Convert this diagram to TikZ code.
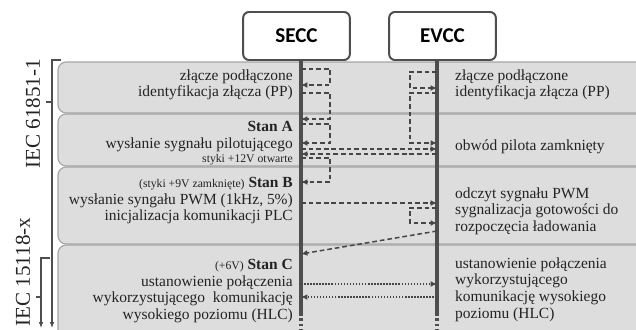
\documentclass[tikz,border=0pt]{standalone}
\usepackage{fontspec}
\setmainfont{Liberation Serif}
\newfontfamily\unitfont{Carlito}
\usetikzlibrary{arrows.meta}
\definecolor{bandgray}{RGB}{221,221,221}
\definecolor{bandline}{RGB}{165,165,165}
\definecolor{linegray}{RGB}{78,78,78}
\definecolor{msggray}{RGB}{70,70,70}
\definecolor{txtgray}{RGB}{35,35,35}
\newcommand{\smallnote}[1]{{\fontsize{10}{11}\selectfont #1}}
\tikzset{
  unit/.style={draw=linegray, line width=1.7pt, rounded corners=5pt, fill=white, minimum width=3.2cm, minimum height=1.44cm, font={\unitfont\bfseries\fontsize{18}{20}\selectfont}, text=black},
  band/.style={fill=bandgray, draw=bandline, line width=1pt, rounded corners=7pt},
  life/.style={draw=linegray, line width=2.6pt},
  msg/.style={-{Latex[length=5.5pt,width=5pt]}, line width=1.3pt, draw=msggray, dash pattern=on 4pt off 2.5pt},
  hlc/.style={msg, dash pattern=on 1.3pt off 1.3pt},
  lnote/.style={align=right, inner sep=0pt, text=txtgray, font={\fontsize{13.2}{14.1}\selectfont}},
  rnote/.style={lnote, align=left},
  brk/.style={draw=linegray, line width=1.2pt},
  iec/.style={rotate=90, inner sep=0pt, text=txtgray, font={\fontsize{18}{20}\selectfont}}
}
\begin{document}
\begin{tikzpicture}[x=0.03cm, y=-0.03cm]
  \useasboundingbox (0,0) rectangle (636,329);
  \clip (0,0) rectangle (636,329);

  \foreach \t/\b in {62/113, 114/166, 167/244, 245/345}
    \draw[band] (58,\t) rectangle (650,\b);

  \node[unit] (secc) at (296.5,36) {SECC};
  \node[unit] (evcc) at (442.5,36) {EVCC};

  \coordinate (sl) at (301,60);
  \coordinate (el) at (437,60);
  \coordinate (sx) at (330,0);
  \coordinate (ex) at (410,0);
  \foreach \n/\y in {a/69, b/85, c/93, d/119, e/124, f/143, g/149, h/154, i/158, j/182,
                     k/203, l/208, m/223, n/231, o/254, p/284, q/297, r/72, s/88, z/313}
    \coordinate (y\n) at (0,\y);

  \draw[life] (secc.south -| sl) -- (sl |- yz);
  \draw[life] (evcc.south -| el) -- (el |- yz);
  \draw[life, dash pattern=on 2.5pt off 2pt] (sl |- yz) -- ++(0,18);
  \draw[life, dash pattern=on 2.5pt off 2pt] (el |- yz) -- ++(0,18);

  \node[lnote, anchor=north east] (pps) at (293,69.5) {złącze podłączone\\identyfikacja złącza (PP)};
  \node[lnote, anchor=north east] (stana) at (293,121.5) {\textbf{Stan A}\\wysłanie sygnału pilotującego};
  \node[lnote, anchor=base east] (open12) at (293,162) {\smallnote{styki +12V otwarte}};
  \node[lnote, anchor=base east] (stanb) at (293,187) {\smallnote{(styki +9V zamknięte)} \textbf{Stan B}};
  \node[lnote, anchor=north east] (pwms) at (293,193.5) {wysłanie syngału PWM (1kHz, 5\%)\\inicjalizacja komunikacji PLC};
  \node[lnote, anchor=base east] (stanc) at (293,269) {\smallnote{(+6V)} \textbf{Stan C}};
  \node[lnote, anchor=north east] (hlcs) at (293,275.5) {ustanowienie połączenia\\wykorzystującego\ \ komunikację\\wysokiego poziomu (HLC)};

  \node[rnote, anchor=north west] (ppe) at (455,69.5) {złącze podłączone\\identyfikacja złącza (PP)};
  \node[rnote, anchor=base west] (pilot) at (455,150) {obwód pilota zamknięty};
  \node[rnote, anchor=north west] (pwme) at (455,187.5) {odczyt sygnału PWM\\sygnalizacja gotowości do\\rozpoczęcia ładowania};
  \node[rnote, anchor=north west] (hlce) at (455,257.5) {ustanowienie połączenia\\wykorzystującego\\komunikację wysokiego\\poziomu (HLC)};

  \draw[msg] (sl |- ya) -| (sx |- yb) -- (sl |- yb);
  \draw[msg] (sl |- yc) -| (sx |- yd) -- (sl |- yd);
  \draw[msg] (sl |- ye) -| (sx |- yf) -- (sl |- yf);
  \draw[msg] (sl |- yi) -| (sx |- yj) -- (sl |- yj);
  \draw[msg] (el |- yr) -| (ex |- ys) -- (el |- ys);
  \draw[msg] (el |- yc) -| (ex |- yf) -- (el |- yf);
  \draw[msg] (el |- yl) -| (ex |- ym) -- (el |- ym);
  \draw[msg] (sl |- yg) -- (el |- yg);
  \draw[msg] (el |- yh) -- (sl |- yh);
  \draw[msg] (sl |- yk) -- (el |- yk);
  \draw[msg] (el |- yn) -- (sl |- yo);
  \draw[hlc] (sl |- yp) -- (el |- yp);
  \draw[hlc] (el |- yq) -- (sl |- yq);

  \node[iec] (iec1) at (33,114) {IEC 61851-1};
  \node[iec] (iec2) at (23,272) {IEC 15118-x};
  \draw[brk, -{Latex[length=5pt,width=4pt]}] (61,60) -- (52,60) -- (52,328);
  \draw[brk] (46,102) -- (52,102);
  \draw[brk, -{Latex[length=5pt,width=4pt]}] (50,258) -- (41,258) -- (41,328);
  \draw[brk] (36,297) -- (41,297);
\end{tikzpicture}
\end{document}
